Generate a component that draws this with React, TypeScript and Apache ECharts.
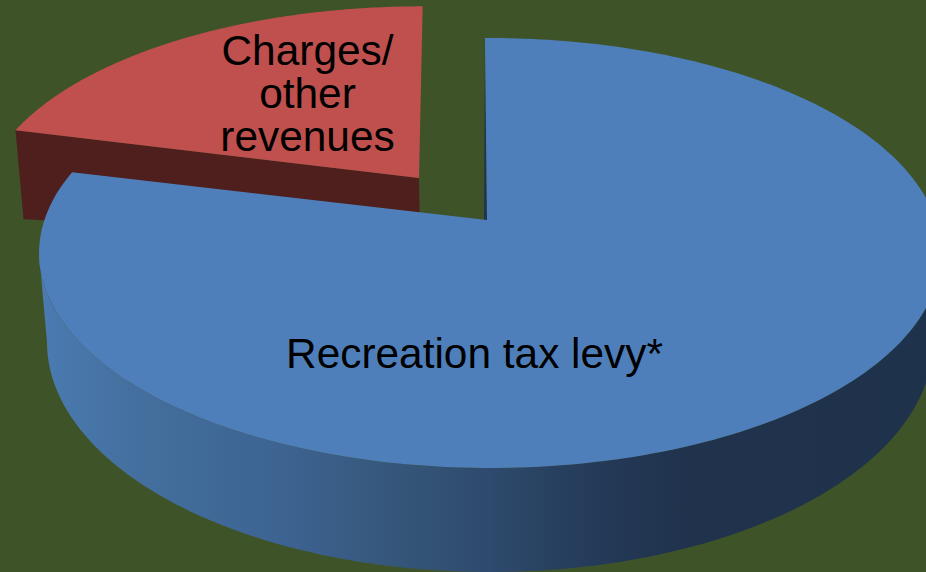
import React, { useEffect, useRef } from "react";
import * as echarts from "echarts";

// Drawn back to front, so the nearer slice comes last.
const categories = ["Charges/\nother\nrevenues", "Recreation tax levy*"];
const values = [21, 79];
const total = values.reduce((a, b) => a + b, 0);

const BG = "#3f5329";
const BLUE = "#4e7fba";
const RED = "#bf504d";
const RED_DARK = "#4f1f1d";
const PERSPECTIVE = 0.1535;
const START_ANGLE = -0.75;
const RED_GAP = 0.85;

const blueDisc = { cx: 490, ax: 487, ay: 220, a: 209.9, b: 445.6 };
const redDisc = { cx: 422, ax: 419, ay: 178, a: 198, b: 436 };
const blueFloor = { cx: 490, cy: 342, rx: 443, ry: 230 };
const blueRim = { cx: 490, cy: 253, rx: 451, ry: 215 };

const project = (d: typeof blueDisc, deg: number) => {
  const t = (deg * Math.PI) / 180;
  const x = Math.sin(t);
  const y = Math.cos(t);
  const w = 1 + PERSPECTIVE * y;
  return [d.cx + (d.b * x) / w, d.ay - (d.a * y) / w];
};

const arc = (d: typeof blueDisc, from: number, to: number) => {
  const pts: number[][] = [];
  const n = 240;
  for (let i = 0; i <= n; i++) pts.push(project(d, from + ((to - from) * i) / n));
  return pts;
};

const ellipsePts = (e: typeof blueRim, from: number, to: number) => {
  const pts: number[][] = [];
  const n = 240;
  for (let i = 0; i <= n; i++) {
    const t = ((from + ((to - from) * i) / n) * Math.PI) / 180;
    pts.push([e.cx + e.rx * Math.cos(t), e.cy + e.ry * Math.sin(t)]);
  }
  return pts;
};

const labelStyle = {
  fontFamily: "Liberation Sans",
  fill: "#000",
  textAlign: "center",
};

function renderSlice(params: any, api: any) {
  const value = api.value(0);
  const name = categories[params.dataIndex];
  const sweep = (value / total) * 360;
  const blueSweep = (values[1] / total) * 360;
  if (params.dataIndex === 0) {
    const start = START_ANGLE + blueSweep + RED_GAP;
    const pts = arc(redDisc, start, start + sweep);
    const left = pts[0];
    return {
      type: "group",
      children: [
        {
          type: "polygon",
          shape: {
            points: [
              [redDisc.ax, redDisc.ay],
              left,
              [left[0] + 8, left[1] + 89],
              [redDisc.ax + 1, redDisc.ay + 60],
            ],
          },
          style: { fill: RED_DARK },
        },
        {
          type: "polygon",
          shape: { points: [[redDisc.ax, redDisc.ay], ...pts] },
          style: { fill: RED },
        },
        {
          type: "text",
          x: 307.5,
          y: 29,
          style: { ...labelStyle, fontSize: 42.4, text: name, lineHeight: 43 },
        },
      ],
    };
  }
  const start = START_ANGLE;
  const pts = arc(blueDisc, start, start + sweep);
  const wall = [...ellipsePts(blueRim, 180, 0), ...ellipsePts(blueFloor, 0, 180)];
  return {
    type: "group",
    children: [
      {
        type: "polygon",
        shape: { points: wall },
        style: {
          fill: new echarts.graphic.LinearGradient(0, 0, 1, 0, [
            { offset: 0, color: "#4b7bb2" },
            { offset: 0.1, color: "#44709f" },
            { offset: 0.28, color: "#3c6290" },
            { offset: 0.4, color: "#355679" },
            { offset: 0.5, color: "#2e4a6c" },
            { offset: 0.62, color: "#243a58" },
            { offset: 0.72, color: "#20324c" },
            { offset: 1, color: "#1f324b" },
          ]),
        },
      },
      {
        type: "polygon",
        shape: {
          points: [pts[0], [blueDisc.ax, blueDisc.ay], [blueDisc.ax - 3, blueDisc.ay]],
        },
        style: { fill: "#20344f" },
      },
      {
        type: "polygon",
        shape: { points: [[blueDisc.ax, blueDisc.ay], ...pts] },
        style: { fill: BLUE },
      },
      {
        type: "text",
        x: 474.5,
        y: 332,
        style: { ...labelStyle, fontSize: 42.4, text: name },
      },
    ],
  };
}

export default function App() {
  const ref = useRef<HTMLDivElement>(null);
  useEffect(() => {
    document.body.style.margin = "0";
    const chart = echarts.init(ref.current!, undefined, { renderer: "svg" });
    chart.setOption({
      animation: false,
      backgroundColor: BG,
      series: [
        {
          type: "custom",
          coordinateSystem: "none",
          silent: true,
          renderItem: renderSlice,
          clip: false,
          data: values.map((v, i) => ({ name: categories[i], value: [v] })),
        },
      ],
    });
    return () => chart.dispose();
  }, []);
  return <div ref={ref} style={{ width: 926, height: 572 }} />;
}
